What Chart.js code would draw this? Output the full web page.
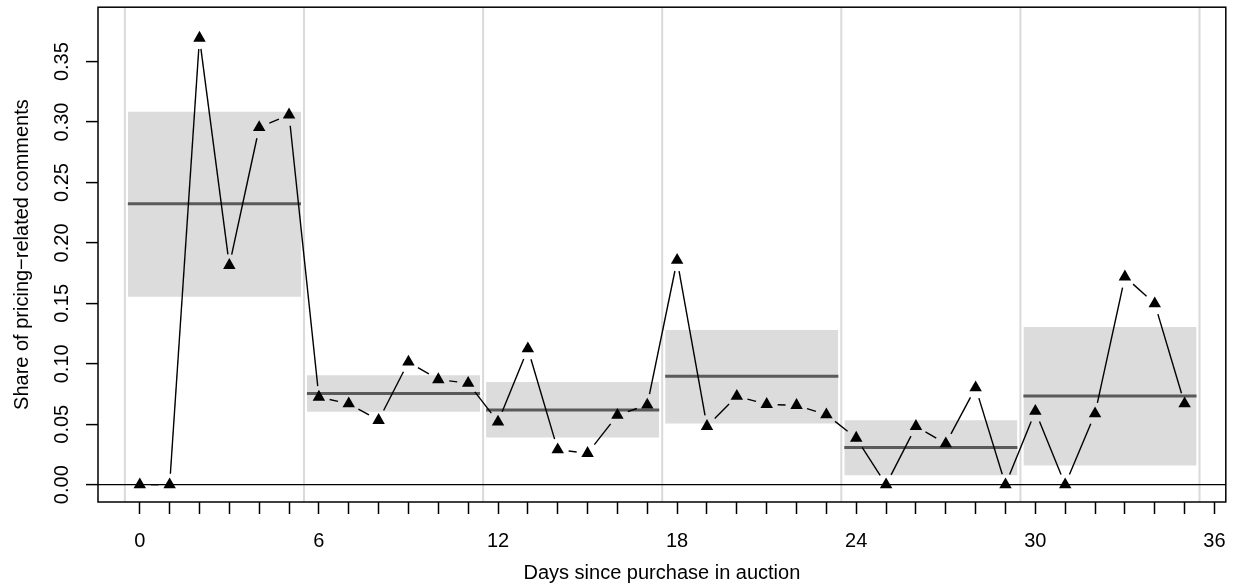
<!DOCTYPE html>
<html lang="en">
<head>
<meta charset="UTF-8">
<title>Share of pricing-related comments</title>
<script src="https://cdn.jsdelivr.net/npm/chart.js"></script>
<style>
  body { margin: 0; background: #fff; }
</style>
</head>
<body>
<canvas id="chart" width="1233" height="584"></canvas>
<script>
// daily share of pricing-related comments
const days = [0, 1, 2, 3, 4, 5, 6, 7, 8, 9, 10, 11, 12, 13, 14, 15, 16, 17,
              18, 19, 20, 21, 22, 23, 24, 25, 26, 27, 28, 29, 30, 31, 32, 33, 34, 35];
const shares = [0, 0, 0.3695, 0.1815, 0.2955, 0.306,
                0.0725, 0.067, 0.0533, 0.1015, 0.087, 0.084,
                0.052, 0.1125, 0.029, 0.026, 0.0575, 0.066,
                0.1857, 0.0483, 0.0732, 0.0665, 0.0657, 0.058,
                0.0386, 0, 0.0483, 0.034, 0.0803, 0,
                0.0608, 0, 0.0588, 0.172, 0.1498, 0.067];

// six-day periods: first/last day, mean and band
const periodStart = [0, 6, 12, 18, 24, 30];
const periodEnd = [5, 11, 17, 23, 29, 35];
const periodMean = [0.2324, 0.0755, 0.0617, 0.0898, 0.0308, 0.0733];
const periodLow = [0.1555, 0.0603, 0.039, 0.0507, 0.0079, 0.0159];
const periodHigh = [0.3085, 0.0906, 0.0849, 0.1279, 0.0534, 0.1304];

// grey lines between periods
const periodBreaks = [-0.5, 5.5, 11.5, 17.5, 23.5, 29.5, 35.5];

const xTickLabels = [0, 6, 12, 18, 24, 30, 36];
const yTicks = [0, 0.05, 0.10, 0.15, 0.20, 0.25, 0.30, 0.35];

const bandPad = 0.4;   // band reaches a bit past first/last day
const gap = 11;        // gap around points, like R type="b"

Chart.defaults.font.family = '"Liberation Sans", Arial, sans-serif';
Chart.defaults.font.size = 20;
Chart.defaults.color = '#000';

// datasets: points first so they end up on top
const datasets = [{
    label: 'share',
    data: days.map((d, i) => ({ x: d, y: shares[i] })),
    showLine: false,
    pointStyle: 'triangle',
    pointRadius: 7.2,
    pointBorderWidth: 0,
    pointBackgroundColor: '#000'
}];

periodStart.forEach((s, i) => {
    datasets.push({
        label: 'mean ' + i,
        data: [{ x: s - bandPad, y: periodMean[i] }, { x: periodEnd[i] + bandPad, y: periodMean[i] }],
        borderColor: '#5a5a5a',
        borderWidth: 3,
        pointRadius: 0,
        fill: false
    });
});
periodStart.forEach((s, i) => {
    datasets.push({
        label: 'band ' + i,
        data: [{ x: s - bandPad, y: periodHigh[i] }, { x: periodEnd[i] + bandPad, y: periodHigh[i] }],
        borderWidth: 0,
        borderColor: 'rgba(0,0,0,0)',
        backgroundColor: '#dcdcdc',
        pointRadius: 0,
        fill: { value: periodLow[i] }
    });
});

const extras = {
    id: 'extras',
    beforeDraw(chart) {
        const { ctx, chartArea: a, scales: { x } } = chart;
        ctx.save();
        ctx.strokeStyle = '#dadada';
        ctx.lineWidth = 2;
        periodBreaks.forEach(b => {
            const px = x.getPixelForValue(b);
            ctx.beginPath();
            ctx.moveTo(px, a.top);
            ctx.lineTo(px, a.bottom);
            ctx.stroke();
        });
        ctx.restore();
    },
    afterDatasetsDraw(chart) {
        const { ctx } = chart;
        const pts = chart.getDatasetMeta(0).data;
        ctx.save();
        ctx.strokeStyle = '#000';
        ctx.lineWidth = 1.4;
        for (let i = 0; i < pts.length - 1; i++) {
            const p = pts[i], q = pts[i + 1];
            const dx = q.x - p.x, dy = q.y - p.y;
            const d = Math.hypot(dx, dy);
            if (d <= 2 * gap) continue;
            const ux = dx / d, uy = dy / d;
            ctx.beginPath();
            ctx.moveTo(p.x + ux * gap, p.y + uy * gap);
            ctx.lineTo(q.x - ux * gap, q.y - uy * gap);
            ctx.stroke();
        }
        ctx.restore();
    },
    afterDraw(chart) {
        const { ctx, chartArea: a } = chart;
        ctx.save();
        ctx.strokeStyle = '#000';
        ctx.lineWidth = 1.5;
        ctx.strokeRect(a.left, a.top, a.right - a.left, a.bottom - a.top);
        ctx.restore();
    }
};

new Chart(document.getElementById('chart'), {
    type: 'line',
    data: { datasets: datasets },
    options: {
        responsive: false,
        animation: false,
        layout: { padding: { top: 7, right: 5, left: 0, bottom: 0 } },
        plugins: { legend: { display: false }, tooltip: { enabled: false } },
        scales: {
            x: {
                type: 'linear',
                min: -1.4,
                max: 36.38,
                afterBuildTicks: s => {
                    const t = [];
                    for (let d = 0; d <= 36; d++) t.push({ value: d });
                    s.ticks = t;
                },
                afterFit: s => {
                    s.height = 82;
                    s.paddingLeft = 0;
                    s.paddingRight = 0;
                },
                border: { display: false },
                grid: { drawOnChartArea: false, tickLength: 12, tickColor: '#000', tickWidth: 1.5 },
                ticks: {
                    autoSkip: false,
                    maxRotation: 0,
                    padding: 15,
                    callback: v => xTickLabels.includes(v) ? String(v) : ''
                },
                title: {
                    display: true,
                    text: 'Days since purchase in auction',
                    font: { size: 20, lineHeight: 1 },
                    padding: { top: 0, bottom: 1 }
                }
            },
            y: {
                min: -0.0143,
                max: 0.395,
                afterBuildTicks: s => { s.ticks = yTicks.map(v => ({ value: v })); },
                afterFit: s => {
                    s.width = 98;
                    s.paddingTop = 0;
                    s.paddingBottom = 0;
                },
                border: { display: false },
                grid: {
                    color: c => (c.tick && c.tick.value === 0) ? '#000' : 'rgba(0,0,0,0)',
                    lineWidth: 1.2,
                    tickLength: 12,
                    tickColor: '#000',
                    tickWidth: 1.5
                },
                ticks: {
                    autoSkip: false,
                    minRotation: 90,
                    maxRotation: 90,
                    crossAlign: 'center',
                    padding: 4,
                    callback: v => v.toFixed(2)
                },
                title: {
                    display: true,
                    text: 'Share of pricing\u2212related comments',
                    font: { size: 20, lineHeight: 1 },
                    padding: { top: 12, bottom: 0 }
                }
            }
        }
    },
    plugins: [extras]
});
</script>
</body>
</html>
